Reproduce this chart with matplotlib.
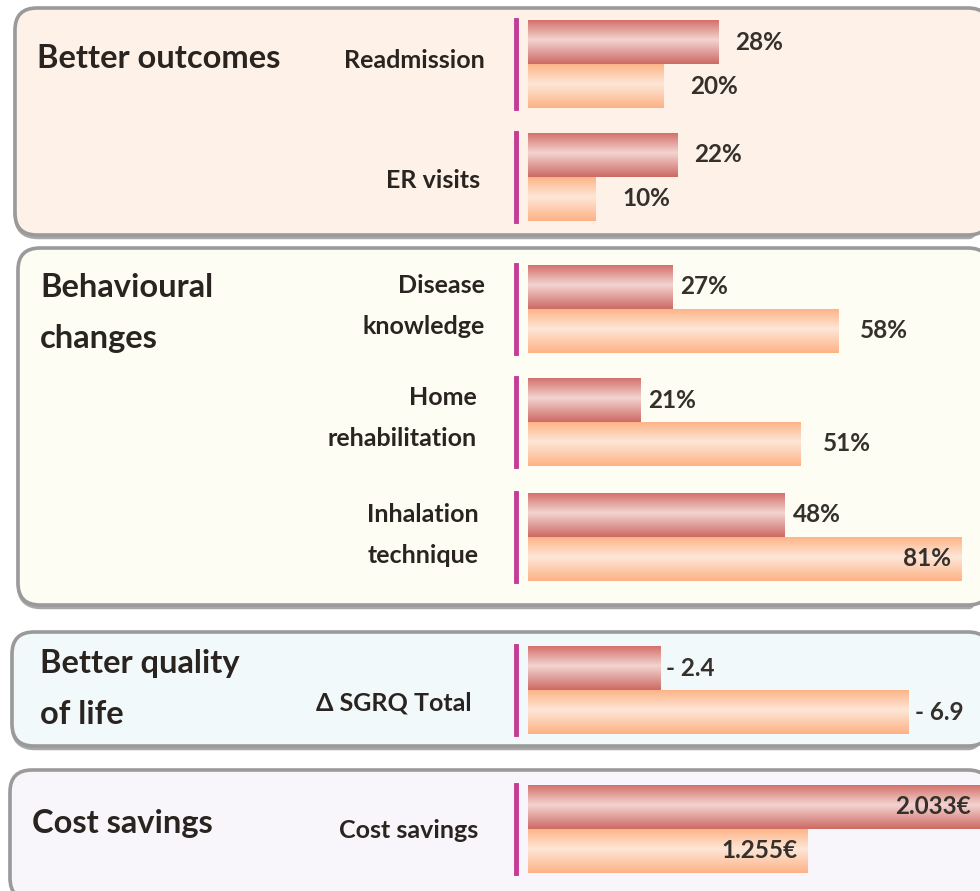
"""
Recreation of the COPD programme outcome panel: four rounded boxes, each with
paired horizontal bars (dark = first series, light = second series).
"""

import numpy as np
import matplotlib
matplotlib.use("Agg")
import matplotlib.pyplot as plt
from matplotlib.patches import FancyBboxPatch
from matplotlib.colors import LinearSegmentedColormap

W, H = 980, 891
FONT = ["Lato", "DejaVu Sans"]
plt.rcParams["font.family"] = FONT

# ---- data -------------------------------------------------------------
groups = ["Better outcomes", "Behavioural\nchanges", "Better quality\nof life", "Cost savings"]
row_labels = [["Readmission", "ER visits"],
              ["Disease\nknowledge", "Home\nrehabilitation", "Inhalation\ntechnique"],
              ["Δ SGRQ Total"],
              ["Cost savings"]]
dark_vals = [[28, 22], [27, 21, 48], [2.4], [2.033]]
light_vals = [[20, 10], [58, 51, 81], [6.9], [1.255]]
value_fmt = ["{:.0f}%", "{:.0f}%", "- {:.1f}", "{:.3f}€"]

# ---- layout / style (pixels) ------------------------------------------
box_ys = [(8, 235), (248, 605), (632, 746), (770, 900)]
box_x0 = [15, 18, 12, 10]
box_bg = ["#fdf1e8", "#fdfdf4", "#f2f9fb", "#f8f5fb"]
row_tops = [[20, 133], [265, 378, 493], [646], [785]]
row_h = 88
x_max = [66.5, 84.5, 8.2, 2.03]          # per-panel axis range
label_gap = [(17, 26), (8, 22), (6, 7), (0, 0)]
title_pos = [(37, 58), (40, 313), (40, 689), (32, 823)]
row_label_dx = [[-43, -48], [-43, -51, -49], [-56], [-50]]
row_label_dy = [[3, -3], [3, 4, 2], [-13], [-2]]
inside = [[(False, False), (False, False)],
          [(False, False), (False, False), (False, True)],
          [(False, False)],
          [(True, True)]]

DARK = ["#d4716b", "#f3d3d0", "#cd6a64"]
LIGHT = ["#fdb488", "#fee6d6", "#fdb286"]
MAGENTA = "#c43c96"
TXT = "#2a2420"
VAL = "#35302c"

fig = plt.figure(figsize=(W / 100, H / 100), dpi=100)
fig.patch.set_facecolor("white")
bg = fig.add_axes([0, 0, 1, 1])
bg.set_xlim(0, W)
bg.set_ylim(H, 0)
bg.axis("off")


def fig_rect(x0, y0, x1, y1):
    return [x0 / W, 1 - y1 / H, (x1 - x0) / W, (y1 - y0) / H]


def gradient_bar(ax, patch, colors):
    cmap = LinearSegmentedColormap.from_list("g", colors)
    prof = np.concatenate([np.linspace(0, 1, 45), np.linspace(1, 2, 55)]) / 2
    img = ax.imshow(prof[:, None], cmap=cmap, aspect="auto", vmin=0, vmax=1,
                    extent=[patch.get_x(), patch.get_x() + patch.get_width(),
                            patch.get_y(), patch.get_y() + patch.get_height()],
                    origin="upper", zorder=2)
    img.set_clip_path(patch)


for g, title in enumerate(groups):
    y0, y1 = box_ys[g]
    # shadow + box
    bg.add_patch(FancyBboxPatch((box_x0[g] + 1, y0 + 2), 990 - box_x0[g], y1 - y0,
                                boxstyle="round,pad=0,rounding_size=22",
                                fc="none", ec="#6f6f6f", lw=3.2, alpha=0.6))
    bg.add_patch(FancyBboxPatch((box_x0[g], y0), 990 - box_x0[g], y1 - y0,
                                boxstyle="round,pad=0,rounding_size=22",
                                fc=box_bg[g], ec="#9a9a9a", lw=2.6))
    tx, ty = title_pos[g]
    bg.text(tx, ty, title, fontsize=23.5, color=TXT, ha="left", va="center",
            linespacing=1.88, fontweight="bold")

    for r, lab in enumerate(row_labels[g]):
        top = row_tops[g][r]
        ax = fig.add_axes(fig_rect(528, top, 980, top + row_h))
        ax.set_xlim(0, x_max[g])
        ax.set_ylim(0, 2)
        ax.patch.set_alpha(0)
        for s in ("top", "right", "bottom"):
            ax.spines[s].set_visible(False)
        ax.spines["left"].set_position(("outward", 9))
        ax.spines["left"].set_color(MAGENTA)
        ax.spines["left"].set_linewidth(3.5)
        ax.set_xticks([])
        ax.set_yticks([])

        vals = (dark_vals[g][r], light_vals[g][r])
        ys = (1.5, 0.5)
        cols = (DARK, LIGHT)
        for k in range(2):
            bar = ax.barh(ys[k], vals[k], height=1.0, color=cols[k][0],
                          lw=0, zorder=1)[0]
            gradient_bar(ax, bar, cols[k])
            txt = value_fmt[g].format(vals[k])
            if inside[g][r][k]:
                ax.annotate(txt, (vals[k], ys[k]), xytext=(-10, 0),
                            textcoords="offset pixels", ha="right", va="center",
                            fontsize=17.5, color=VAL, fontweight="bold",
                            annotation_clip=False, zorder=3)
            else:
                ax.annotate(txt, (vals[k], ys[k]), xytext=(label_gap[g][k], 0),
                            textcoords="offset pixels", ha="left", va="center",
                            fontsize=17.5, color=VAL, fontweight="bold",
                            annotation_clip=False, zorder=3)
        ax.set_xlim(0, x_max[g])
        ax.set_ylim(0, 2)

        ax.annotate(lab, (0, 0.5), xycoords="axes fraction",
                    xytext=(row_label_dx[g][r], row_label_dy[g][r]),
                    textcoords="offset pixels", ha="right", va="center",
                    fontsize=18, color=TXT, linespacing=1.95,
                    fontweight="bold", family=FONT)

fig.savefig("out.png", dpi=100)
